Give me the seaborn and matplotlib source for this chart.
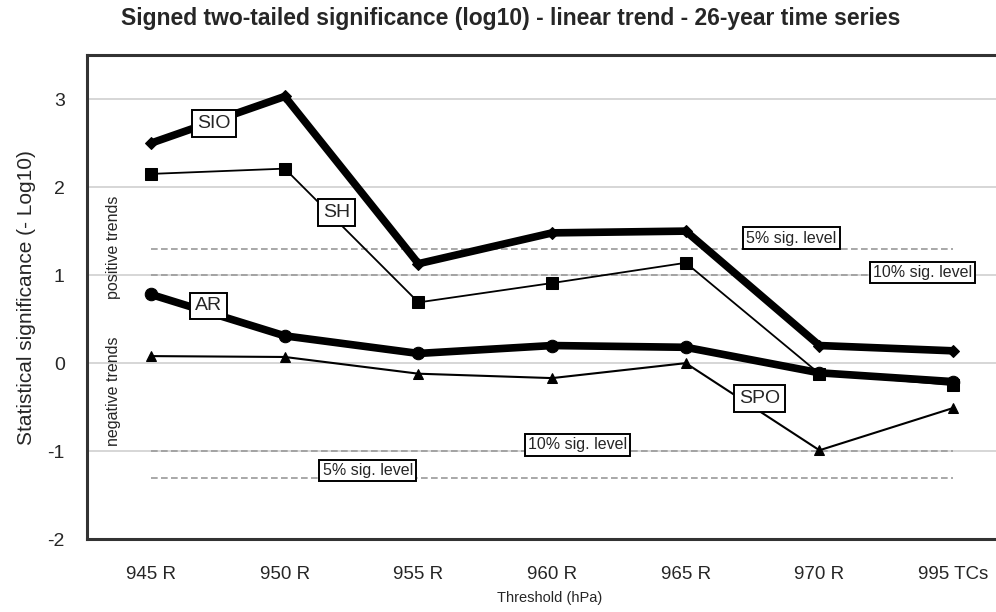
import matplotlib
matplotlib.use("Agg")
import matplotlib.pyplot as plt
import matplotlib.ticker as ticker
import pandas as pd
import seaborn as sns


thresholds = ["945 R", "950 R", "955 R", "960 R", "965 R", "970 R", "995 TCs"]
sio = [2.50, 3.03, 1.13, 1.48, 1.50, 0.20, 0.14]
sh = [2.15, 2.21, 0.69, 0.91, 1.14, -0.12, -0.25]
ar = [0.78, 0.31, 0.11, 0.20, 0.18, -0.11, -0.21]
spo = [0.08, 0.07, -0.12, -0.17, 0.00, -0.99, -0.51]
sig_levels = [1.30, 1.0, -1.0, -1.30]
sig_names = ["5% sig. level", "10% sig. level", "10% sig. level", "5% sig. level"]


def main():
    sns.set_style("white")
    plt.rcParams["font.family"] = ["Liberation Sans", "DejaVu Sans"]
    plt.rcParams["axes.unicode_minus"] = False

    fig = plt.figure(figsize=(9.96, 6.12), dpi=100)
    ax = fig.add_axes([0.0873, 0.119, 0.93, 0.791])

    cat = pd.Categorical(thresholds, categories=thresholds, ordered=True)

    # significance reference lines
    for lev in sig_levels:
        ref = pd.DataFrame({"x": cat, "y": [lev] * len(thresholds)})
        sns.lineplot(data=ref, x="x", y="y", ax=ax, color="#9a9a9a",
                     linestyle=(0, (4, 2)), linewidth=1.2, zorder=2)

    series = {
        "SIO": (sio, dict(linewidth=5.5, marker="D", markersize=6)),
        "SH": (sh, dict(linewidth=1.3, marker="s", markersize=9)),
        "AR": (ar, dict(linewidth=5.5, marker="o", markersize=9)),
        "SPO": (spo, dict(linewidth=1.5, marker="^", markersize=7)),
    }
    for name, (vals, kw) in series.items():
        df = pd.DataFrame({"x": cat, "y": vals})
        sns.lineplot(data=df, x="x", y="y", ax=ax, color="black",
                     markeredgecolor="black", zorder=4, **kw)

    ax.set_ylim(-2, 3.5)
    ax.set_xlim(-0.48, 6.45)
    ax.yaxis.set_major_locator(ticker.MultipleLocator(1))
    ax.grid(axis="y", color="#cfcfcf", linewidth=1.2)
    ax.set_axisbelow(True)

    ax.set_xticks(range(len(thresholds)))
    ax.set_xticklabels(thresholds, fontsize=13.5)
    ax.xaxis.set_minor_locator(ticker.FixedLocator([i + 0.5 for i in range(6)]))
    ax.tick_params(axis="x", which="major", length=0, pad=19)
    ax.tick_params(axis="x", which="minor", length=4, direction="in")
    ax.tick_params(axis="y", labelsize=14, length=4, direction="inout", pad=14)

    for side in ["left", "bottom", "top"]:
        ax.spines[side].set_color("#333333")
        ax.spines[side].set_linewidth(2.2)
    ax.spines["right"].set_visible(False)

    ax.set_xlabel("Threshold (hPa)", fontsize=10.5, labelpad=6)
    ax.set_ylabel("Statistical significance (- Log10)", fontsize=15, labelpad=8)
    fig.suptitle("Signed two-tailed significance (log10) - linear trend - 26-year time series",
                 fontsize=16.5, fontweight="bold", x=0.513, y=0.988)

    box = dict(boxstyle="square,pad=0.25", facecolor="white", edgecolor="black", linewidth=1.4)
    labels = [("SIO", 0.47, 2.72), ("SH", 1.39, 1.71), ("AR", 0.43, 0.65), ("SPO", 4.55, -0.40)]
    for txt, xv, yv in labels:
        ax.text(xv, yv, txt, fontsize=14, ha="center", va="center", bbox=box, zorder=6)

    small_box = dict(boxstyle="square,pad=0.2", facecolor="white", edgecolor="black", linewidth=1.4)
    sig_pos = [(4.79, 1.42), (5.77, 1.03), (3.19, -0.93), (1.62, -1.22)]
    for (xv, yv), txt in zip(sig_pos, sig_names):
        ax.text(xv, yv, txt, fontsize=11.5, ha="center", va="center", bbox=small_box, zorder=6)

    ax.text(-0.28, 1.32, "positive trends", rotation=90, fontsize=11.5,
            ha="center", va="center")
    ax.text(-0.28, -0.32, "negative trends", rotation=90, fontsize=11.5,
            ha="center", va="center")

    fig.savefig("out.png", dpi=100)


if __name__ == "__main__":
    main()
